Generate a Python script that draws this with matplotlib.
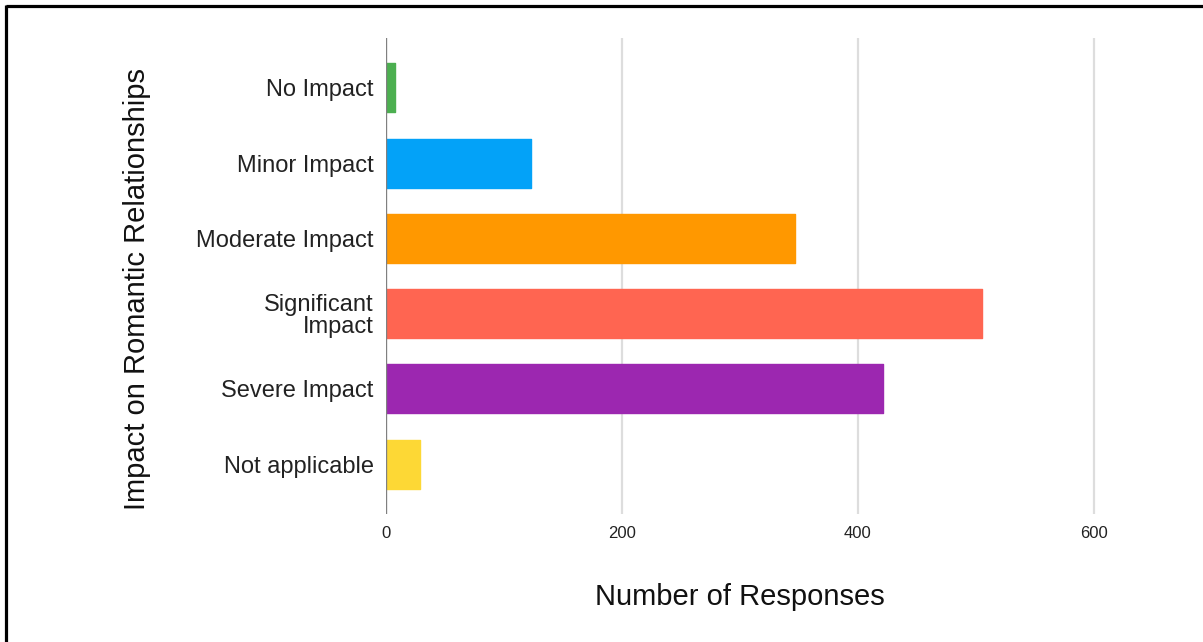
import matplotlib
matplotlib.use("Agg")
import matplotlib.pyplot as plt
from matplotlib.lines import Line2D

# Survey results
categories = ["No Impact", "Minor Impact", "Moderate Impact",
              "Significant\nImpact", "Severe Impact", "Not applicable"]
responses = [8, 123, 347, 505, 421, 29]
bar_colors = ["#4CAF50", "#03A2F8", "#FF9800", "#FF6551", "#9C27B0", "#FDD835"]
x_ticks = [0, 200, 400, 600]

plt.rcParams["font.family"] = ["Liberation Sans", "DejaVu Sans"]

W, H = 1203, 642
fig = plt.figure(figsize=(W / 100, H / 100), dpi=100)
fig.patch.set_facecolor("white")

ax = fig.add_axes([386 / W, 1 - 514 / H, (1129 - 386) / W, (514 - 38) / H])

positions = list(range(len(categories)))
ax.barh(positions, responses, height=0.65, color=bar_colors,
        edgecolor=bar_colors, linewidth=1.0, joinstyle="round", zorder=3)

ax.set_ylim(len(categories) - 1 + 0.66, -0.66)
ax.set_xlim(0, 630)
ax.set_xticks(x_ticks)
ax.set_xticklabels([str(t) for t in x_ticks])
ax.set_yticks(positions)
ax.set_yticklabels(categories)

for lbl in ax.get_yticklabels():
    lbl.set_linespacing(1.0)

ax.tick_params(axis="y", length=0, pad=9, labelsize=17, labelcolor="#222222")
ax.tick_params(axis="x", length=0, pad=9, labelsize=12, labelcolor="#222222")

for side in ["top", "right", "bottom", "left"]:
    ax.spines[side].set_visible(False)

# vertical gridlines and the zero baseline
for t in x_ticks[1:]:
    ax.axvline(t, color="#dddddd", linewidth=1.6, zorder=1)
ax.axvline(0, color="#808080", linewidth=1.7, zorder=4)

fig.text(740 / W, 1 - 597 / H, "Number of Responses", ha="center", va="center",
         fontsize=21, color="#111111")
fig.text(137 / W, 1 - 288.5 / H, "Impact on Romantic Relationships",
         rotation=90, ha="center", va="center", fontsize=21, color="#111111")

# frame lines along the top and left edges
fig.add_artist(Line2D([5.5 / W, 1], [1 - 6 / H, 1 - 6 / H], transform=fig.transFigure,
                      color="black", linewidth=2.3, solid_capstyle="butt"))
fig.add_artist(Line2D([6 / W, 6 / W], [0, 1 - 5 / H], transform=fig.transFigure,
                      color="black", linewidth=2.3, solid_capstyle="butt"))

fig.savefig("out.png", dpi=100)
